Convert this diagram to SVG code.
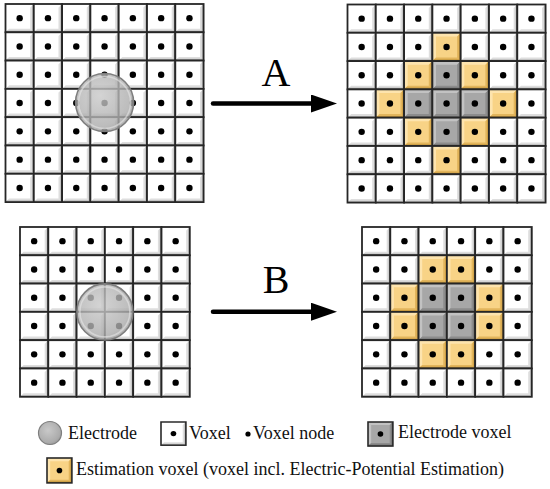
<svg xmlns="http://www.w3.org/2000/svg" xmlns:xlink="http://www.w3.org/1999/xlink" width="550" height="489" viewBox="0 0 550 489">
<style>
  .lbl{font-family:"Liberation Serif","Times New Roman",serif;font-size:40px;fill:#000;text-anchor:middle}
  .leg{font-family:"Liberation Serif","Times New Roman",serif;font-size:18px;fill:#111}
  .arrow{stroke:#000;stroke-width:4.5;fill:none;stroke-linecap:round}
  .elec{fill:url(#eg);fill-opacity:.8;stroke:#7e7e7e;stroke-width:1.6}
  .rim{fill:none;stroke:#e6e6e6;stroke-opacity:.6;stroke-width:1.6}
  .edge{fill:none;stroke:#262626;stroke-width:1.8}
</style>
<defs>
  <radialGradient id="eg" cx=".42" cy=".38" r=".65">
    <stop offset="0" stop-color="#c9c9c9"/>
    <stop offset=".8" stop-color="#acacac"/>
    <stop offset="1" stop-color="#9a9a9a"/>
  </radialGradient>
  <marker id="ah" markerUnits="userSpaceOnUse" markerWidth="26" markerHeight="18" viewBox="0 0 26 18" refX="4" refY="9" orient="auto">
    <path d="M0 0L26 9L0 18Z" fill="#000"/>
  </marker>
  <g id="cw">
    <rect width="28.3" height="28.3" fill="#fff"/>
    <path d="M28.3 0V28.3H0L3.6 24.7H24.7V3.6Z" fill="#dedede"/>
    <path d="M28.3 0V28.3H0L1.8 26.5H26.5V1.8Z" fill="#bdbdbd"/>
    <circle cx="14.15" cy="14.15" r="3.2" fill="#000"/>
    <rect width="28.3" height="28.3" class="edge"/>
  </g>
  <g id="cy">
    <rect width="28.3" height="28.3" fill="#f8d386"/>
    <path d="M0 0H28.3L24.7 3.6H3.6V24.7L0 28.3Z" fill="#fde4ae"/>
    <path d="M28.3 0V28.3H0L3.6 24.7H24.7V3.6Z" fill="#e2b55c"/>
    <path d="M28.3 0V28.3H0L1.8 26.5H26.5V1.8Z" fill="#c89a40"/>
    <circle cx="14.15" cy="14.15" r="3.2" fill="#000"/>
    <rect width="28.3" height="28.3" class="edge"/>
  </g>
  <g id="cg">
    <rect width="28.3" height="28.3" fill="#a7a7a7"/>
    <path d="M0 0H28.3L24.7 3.6H3.6V24.7L0 28.3Z" fill="#c2c2c2"/>
    <path d="M28.3 0V28.3H0L3.6 24.7H24.7V3.6Z" fill="#8c8c8c"/>
    <path d="M28.3 0V28.3H0L1.8 26.5H26.5V1.8Z" fill="#747474"/>
    <circle cx="14.15" cy="14.15" r="3.2" fill="#000"/>
    <rect width="28.3" height="28.3" class="edge"/>
  </g>
</defs>
<rect width="550" height="489" fill="#fff"/>

<g id="grid-a-before" transform="translate(5.5 4)">
  <use href="#cw" x="0" y="0"/><use href="#cw" x="28.3" y="0"/><use href="#cw" x="56.6" y="0"/><use href="#cw" x="84.9" y="0"/><use href="#cw" x="113.2" y="0"/><use href="#cw" x="141.5" y="0"/><use href="#cw" x="169.8" y="0"/>
  <use href="#cw" x="0" y="28.3"/><use href="#cw" x="28.3" y="28.3"/><use href="#cw" x="56.6" y="28.3"/><use href="#cw" x="84.9" y="28.3"/><use href="#cw" x="113.2" y="28.3"/><use href="#cw" x="141.5" y="28.3"/><use href="#cw" x="169.8" y="28.3"/>
  <use href="#cw" x="0" y="56.6"/><use href="#cw" x="28.3" y="56.6"/><use href="#cw" x="56.6" y="56.6"/><use href="#cw" x="84.9" y="56.6"/><use href="#cw" x="113.2" y="56.6"/><use href="#cw" x="141.5" y="56.6"/><use href="#cw" x="169.8" y="56.6"/>
  <use href="#cw" x="0" y="84.9"/><use href="#cw" x="28.3" y="84.9"/><use href="#cw" x="56.6" y="84.9"/><use href="#cw" x="84.9" y="84.9"/><use href="#cw" x="113.2" y="84.9"/><use href="#cw" x="141.5" y="84.9"/><use href="#cw" x="169.8" y="84.9"/>
  <use href="#cw" x="0" y="113.2"/><use href="#cw" x="28.3" y="113.2"/><use href="#cw" x="56.6" y="113.2"/><use href="#cw" x="84.9" y="113.2"/><use href="#cw" x="113.2" y="113.2"/><use href="#cw" x="141.5" y="113.2"/><use href="#cw" x="169.8" y="113.2"/>
  <use href="#cw" x="0" y="141.5"/><use href="#cw" x="28.3" y="141.5"/><use href="#cw" x="56.6" y="141.5"/><use href="#cw" x="84.9" y="141.5"/><use href="#cw" x="113.2" y="141.5"/><use href="#cw" x="141.5" y="141.5"/><use href="#cw" x="169.8" y="141.5"/>
  <use href="#cw" x="0" y="169.8"/><use href="#cw" x="28.3" y="169.8"/><use href="#cw" x="56.6" y="169.8"/><use href="#cw" x="84.9" y="169.8"/><use href="#cw" x="113.2" y="169.8"/><use href="#cw" x="141.5" y="169.8"/><use href="#cw" x="169.8" y="169.8"/>
</g>
<g id="electrode-a">
  <circle class="elec" cx="104.6" cy="102.5" r="29"/>
  <circle class="rim" cx="104.6" cy="102.5" r="26"/>
</g>

<g id="grid-a-after" transform="translate(347.5 4.5)">
  <use href="#cw" x="0" y="0"/><use href="#cw" x="28.3" y="0"/><use href="#cw" x="56.6" y="0"/><use href="#cw" x="84.9" y="0"/><use href="#cw" x="113.2" y="0"/><use href="#cw" x="141.5" y="0"/><use href="#cw" x="169.8" y="0"/>
  <use href="#cw" x="0" y="28.3"/><use href="#cw" x="28.3" y="28.3"/><use href="#cw" x="56.6" y="28.3"/><use href="#cy" x="84.9" y="28.3"/><use href="#cw" x="113.2" y="28.3"/><use href="#cw" x="141.5" y="28.3"/><use href="#cw" x="169.8" y="28.3"/>
  <use href="#cw" x="0" y="56.6"/><use href="#cw" x="28.3" y="56.6"/><use href="#cy" x="56.6" y="56.6"/><use href="#cg" x="84.9" y="56.6"/><use href="#cy" x="113.2" y="56.6"/><use href="#cw" x="141.5" y="56.6"/><use href="#cw" x="169.8" y="56.6"/>
  <use href="#cw" x="0" y="84.9"/><use href="#cy" x="28.3" y="84.9"/><use href="#cg" x="56.6" y="84.9"/><use href="#cg" x="84.9" y="84.9"/><use href="#cg" x="113.2" y="84.9"/><use href="#cy" x="141.5" y="84.9"/><use href="#cw" x="169.8" y="84.9"/>
  <use href="#cw" x="0" y="113.2"/><use href="#cw" x="28.3" y="113.2"/><use href="#cy" x="56.6" y="113.2"/><use href="#cg" x="84.9" y="113.2"/><use href="#cy" x="113.2" y="113.2"/><use href="#cw" x="141.5" y="113.2"/><use href="#cw" x="169.8" y="113.2"/>
  <use href="#cw" x="0" y="141.5"/><use href="#cw" x="28.3" y="141.5"/><use href="#cw" x="56.6" y="141.5"/><use href="#cy" x="84.9" y="141.5"/><use href="#cw" x="113.2" y="141.5"/><use href="#cw" x="141.5" y="141.5"/><use href="#cw" x="169.8" y="141.5"/>
  <use href="#cw" x="0" y="169.8"/><use href="#cw" x="28.3" y="169.8"/><use href="#cw" x="56.6" y="169.8"/><use href="#cw" x="84.9" y="169.8"/><use href="#cw" x="113.2" y="169.8"/><use href="#cw" x="141.5" y="169.8"/><use href="#cw" x="169.8" y="169.8"/>
</g>

<g id="grid-b-before" transform="translate(20 227)">
  <use href="#cw" x="0" y="0"/><use href="#cw" x="28.3" y="0"/><use href="#cw" x="56.6" y="0"/><use href="#cw" x="84.9" y="0"/><use href="#cw" x="113.2" y="0"/><use href="#cw" x="141.5" y="0"/>
  <use href="#cw" x="0" y="28.3"/><use href="#cw" x="28.3" y="28.3"/><use href="#cw" x="56.6" y="28.3"/><use href="#cw" x="84.9" y="28.3"/><use href="#cw" x="113.2" y="28.3"/><use href="#cw" x="141.5" y="28.3"/>
  <use href="#cw" x="0" y="56.6"/><use href="#cw" x="28.3" y="56.6"/><use href="#cw" x="56.6" y="56.6"/><use href="#cw" x="84.9" y="56.6"/><use href="#cw" x="113.2" y="56.6"/><use href="#cw" x="141.5" y="56.6"/>
  <use href="#cw" x="0" y="84.9"/><use href="#cw" x="28.3" y="84.9"/><use href="#cw" x="56.6" y="84.9"/><use href="#cw" x="84.9" y="84.9"/><use href="#cw" x="113.2" y="84.9"/><use href="#cw" x="141.5" y="84.9"/>
  <use href="#cw" x="0" y="113.2"/><use href="#cw" x="28.3" y="113.2"/><use href="#cw" x="56.6" y="113.2"/><use href="#cw" x="84.9" y="113.2"/><use href="#cw" x="113.2" y="113.2"/><use href="#cw" x="141.5" y="113.2"/>
  <use href="#cw" x="0" y="141.5"/><use href="#cw" x="28.3" y="141.5"/><use href="#cw" x="56.6" y="141.5"/><use href="#cw" x="84.9" y="141.5"/><use href="#cw" x="113.2" y="141.5"/><use href="#cw" x="141.5" y="141.5"/>
</g>
<g id="electrode-b">
  <circle class="elec" cx="104.9" cy="311.9" r="28"/>
  <circle class="rim" cx="104.9" cy="311.9" r="25"/>
</g>

<g id="grid-b-after" transform="translate(362 227)">
  <use href="#cw" x="0" y="0"/><use href="#cw" x="28.3" y="0"/><use href="#cw" x="56.6" y="0"/><use href="#cw" x="84.9" y="0"/><use href="#cw" x="113.2" y="0"/><use href="#cw" x="141.5" y="0"/>
  <use href="#cw" x="0" y="28.3"/><use href="#cw" x="28.3" y="28.3"/><use href="#cy" x="56.6" y="28.3"/><use href="#cy" x="84.9" y="28.3"/><use href="#cw" x="113.2" y="28.3"/><use href="#cw" x="141.5" y="28.3"/>
  <use href="#cw" x="0" y="56.6"/><use href="#cy" x="28.3" y="56.6"/><use href="#cg" x="56.6" y="56.6"/><use href="#cg" x="84.9" y="56.6"/><use href="#cy" x="113.2" y="56.6"/><use href="#cw" x="141.5" y="56.6"/>
  <use href="#cw" x="0" y="84.9"/><use href="#cy" x="28.3" y="84.9"/><use href="#cg" x="56.6" y="84.9"/><use href="#cg" x="84.9" y="84.9"/><use href="#cy" x="113.2" y="84.9"/><use href="#cw" x="141.5" y="84.9"/>
  <use href="#cw" x="0" y="113.2"/><use href="#cw" x="28.3" y="113.2"/><use href="#cy" x="56.6" y="113.2"/><use href="#cy" x="84.9" y="113.2"/><use href="#cw" x="113.2" y="113.2"/><use href="#cw" x="141.5" y="113.2"/>
  <use href="#cw" x="0" y="141.5"/><use href="#cw" x="28.3" y="141.5"/><use href="#cw" x="56.6" y="141.5"/><use href="#cw" x="84.9" y="141.5"/><use href="#cw" x="113.2" y="141.5"/><use href="#cw" x="141.5" y="141.5"/>
</g>

<g id="connectors">
  <path class="arrow" d="M213 103.5H315" marker-end="url(#ah)"/>
  <path class="arrow" d="M213 311.7H315" marker-end="url(#ah)"/>
</g>
<g id="label-a"><text class="lbl" x="276" y="86">A</text></g>
<g id="label-b"><text class="lbl" x="276" y="293">B</text></g>

<g id="legend">
  <g id="legend-electrode">
    <circle cx="50" cy="433" r="11.5" fill="url(#eg)" stroke="#7e7e7e" stroke-width="1.2"/>
    <text class="leg" x="68" y="439">Electrode</text>
  </g>
  <g id="legend-voxel">
    <use href="#cw" transform="translate(161 422) scale(0.88 0.82)"/>
    <text class="leg" x="189" y="439">Voxel</text>
  </g>
  <g id="legend-node">
    <circle cx="248" cy="434" r="2.6" fill="#000"/>
    <text class="leg" x="253" y="439">Voxel node</text>
  </g>
  <g id="legend-electrode-voxel">
    <use href="#cg" transform="translate(368 422) scale(0.88 0.85)"/>
    <text class="leg" x="398" y="438">Electrode voxel</text>
  </g>
  <g id="legend-estimation">
    <use href="#cy" transform="translate(47 458) scale(0.88 0.88)"/>
    <text class="leg" x="76" y="475">Estimation voxel (voxel incl. Electric-Potential Estimation)</text>
  </g>
</g>
</svg>
